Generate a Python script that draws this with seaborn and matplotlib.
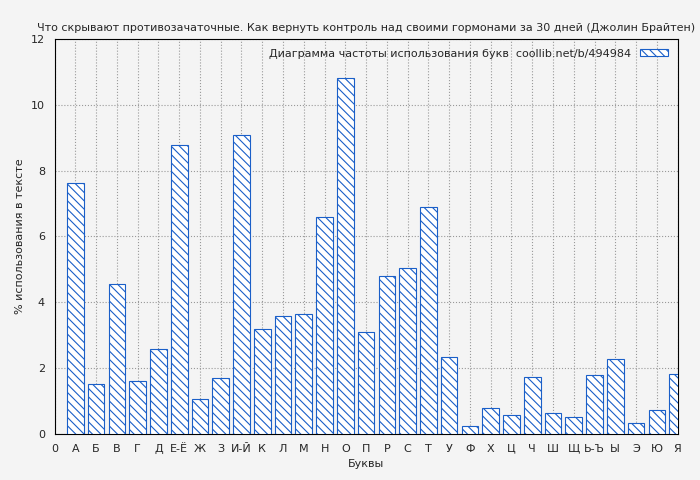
import matplotlib
matplotlib.use("Agg")
import matplotlib.pyplot as plt
import seaborn as sns
import pandas as pd

letters = ["А","Б","В","Г","Д","Е-Ё","Ж","З","И-Й","К","Л","М","Н","О","П","Р","С","Т","У","Ф","Х","Ц","Ч","Ш","Щ","Ь-Ъ","Ы","Э","Ю","Я"]
values = [7.62,1.52,4.55,1.6,2.58,8.78,1.05,1.7,9.08,3.18,3.58,3.63,6.58,10.8,3.1,4.8,5.03,6.9,2.33,0.25,0.78,0.58,1.73,0.63,0.5,1.78,2.27,0.33,0.72,1.82]
tick_labels = ["0"] + letters

sns.set_style("white")
plt.rcParams['font.family'] = ['DejaVu Sans']
plt.rcParams['hatch.color'] = '#1a5fc8'
plt.rcParams['hatch.linewidth'] = 0.8

fig = plt.figure(figsize=(7, 4.8), dpi=100)
fig.patch.set_facecolor('#f4f4f4')
ax = fig.add_axes([0.078, 0.096, 0.89, 0.823])
ax.set_facecolor('#f4f4f4')

df = pd.DataFrame({"x": list(range(1, 31)), "v": values})
ax.bar(df["x"], df["v"], width=0.8, facecolor='white', edgecolor='#1a5fc8',
       hatch='\\\\\\\\', linewidth=0.8, zorder=3,
       label='Диаграмма частоты использования букв  coollib.net/b/494984')

ax.set_xlim(0, 30)
ax.set_ylim(0, 12)
ax.set_xticks(range(0, 31))
ax.set_xticklabels(tick_labels, fontsize=8)
ax.set_yticks(range(0, 13, 2))
ax.tick_params(axis='y', labelsize=8)
ax.grid(True, color='#999999', linestyle=':', linewidth=0.8, zorder=0)
for s in ax.spines.values():
    s.set_color('black'); s.set_linewidth(0.8)
ax.set_xlabel('Буквы', fontsize=8)
ax.set_ylabel('% использования в тексте', fontsize=8)
ax.set_title('Что скрывают противозачаточные. Как вернуть контроль над своими гормонами за 30 дней (Джолин Брайтен)', fontsize=8)
leg = ax.legend(loc='upper right', fontsize=8, frameon=False, markerfirst=False,
                handlelength=2.5, handleheight=0.6)
fig.savefig('out.png', dpi=100, facecolor=fig.get_facecolor())
